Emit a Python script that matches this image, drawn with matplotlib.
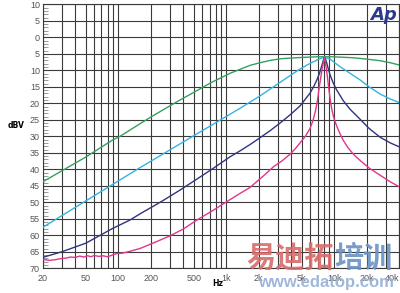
import matplotlib
matplotlib.use('Agg')
import matplotlib.pyplot as plt
from matplotlib.ticker import MultipleLocator

# values (frequency in Hz, level in dBV)
green_f = [20, 50, 89, 104, 159, 197, 300, 373, 500, 708, 1085, 1343, 1660, 2000, 2546,
           3200, 3900, 5000, 5970, 7000, 8100, 9500, 11300, 14900, 17300, 21000, 26600,
           33000, 40000]
green_db = [-43.8, -36.3, -31.1, -30.0, -26.2, -24.3, -20.8, -19.0, -16.7, -13.9, -10.9,
            -9.7, -8.5, -7.8, -7.0, -6.5, -6.3, -6.1, -6.0, -5.9, -5.9, -5.9, -6.0, -6.2,
            -6.4, -6.7, -7.1, -7.7, -8.4]

cyan_f = [20, 50, 104, 159, 373, 700, 1085, 1343, 2000, 2546, 3200, 3900, 4820, 5970,
          7000, 8100, 9150, 10000, 11300, 14000, 17300, 21000, 26600, 33000, 40000]
cyan_db = [-57.6, -49.6, -43.2, -39.5, -32.3, -27.0, -23.3, -21.5, -18.0, -15.7, -13.5,
           -11.6, -9.6, -7.9, -6.8, -6.0, -6.6, -7.6, -8.9, -10.9, -12.9, -15.0, -17.2,
           -18.7, -19.8]

navy_f = [20, 30, 50, 89, 128, 159, 250, 373, 533, 750, 1085, 1343, 1660, 2000, 2546,
          3200, 3900, 4820, 5500, 5970, 6500, 6900, 7300, 7660, 7900, 8100, 8300, 8520,
          8820, 9150, 9700, 10500, 11300, 12100, 14000, 17300, 21000, 26600, 33000, 40000]
navy_db = [-66.7, -65.0, -62.4, -57.9, -55.4, -53.5, -49.8, -46.3, -43.0, -39.8, -36.2,
           -34.4, -32.5, -30.7, -28.3, -25.8, -23.5, -20.8, -18.4, -16.9, -14.7, -12.9,
           -10.9, -8.6, -7.1, -6.1, -6.6, -7.8, -9.7, -11.4, -13.6, -15.9, -17.6, -19.2,
           -21.8, -24.8, -27.6, -30.3, -32.0, -33.2]

magenta_f = [20, 23, 26, 29, 33, 36, 40, 44, 48, 52, 56, 60, 66, 72, 80, 88, 95, 110,
             130, 159, 227, 300, 400, 533, 750, 1010, 1343, 1660, 1920, 2300, 2740, 3300,
             3900, 4400, 4820, 5400, 5970, 6350, 6700, 7000, 7300, 7550, 7800, 8000,
             8100, 8250, 8450, 8650, 8900, 9200, 9480, 9900, 10500, 11300, 12100, 13500,
             15200, 17300, 21000, 26600, 33000, 40000]
magenta_db = [-67.3, -67.6, -67.4, -67.1, -66.9, -66.6, -66.7, -66.3, -66.6, -66.2,
              -66.5, -66.1, -66.4, -66.2, -66.5, -66.0, -65.6, -65.4, -64.8, -64.0,
              -61.9, -60.2, -58.1, -55.4, -52.5, -49.8, -47.3, -45.5, -43.7, -41.5,
              -39.2, -37.4, -35.4, -33.6, -32.0, -30.0, -27.6, -25.2, -22.3, -18.9,
              -14.6, -11.5, -8.8, -6.9, -6.1, -7.2, -9.6, -12.2, -15.6, -19.2, -21.8,
              -24.4, -26.8, -29.2, -31.2, -33.6, -35.6, -37.3, -39.6, -41.8, -43.8, -45.3]

grid_f = [20, 30, 40, 50, 60, 70, 80, 90, 100, 200, 300, 400, 500, 600, 700, 800, 900,
          1000, 2000, 3000, 4000, 5000, 6000, 7000, 8000, 9000, 10000, 20000, 30000, 40000]
label_f = {20: '20', 50: '50', 100: '100', 200: '200', 500: '500', 1000: '1k',
           2000: '2k', 5000: '5k', 10000: '10k', 20000: '20k', 40000: '40k'}
y_ticks = list(range(-70, 11, 5))

fig = plt.figure(figsize=(4.0, 2.93), dpi=100)
ax = fig.add_axes([0.1068, 0.0843, 0.8915, 0.901])

ax.plot(green_f, green_db, color='#35a05e', lw=1.0, zorder=3)
ax.plot(cyan_f, cyan_db, color='#33b5db', lw=1.0, zorder=3)
ax.plot(navy_f, navy_db, color='#2f3480', lw=1.0, zorder=3)
ax.plot(magenta_f, magenta_db, color='#e2358c', lw=1.0, zorder=3)

ax.set_xscale('log')
ax.set_xlim(20, 40000)
ax.set_ylim(-70, 10)

ax.set_xticks(grid_f)
ax.set_xticklabels([label_f.get(f, '') for f in grid_f])
ax.xaxis.set_minor_locator(plt.NullLocator())
ax.set_yticks(y_ticks)
ax.set_yticklabels([str(abs(v)) for v in y_ticks])
ax.yaxis.set_minor_locator(MultipleLocator(1))

ax.tick_params(axis='x', which='major', length=0, pad=4, labelsize=6.5, labelcolor='#555555')
ax.tick_params(axis='y', which='major', length=0, pad=2, labelsize=6.5, labelcolor='#555555')
ax.tick_params(axis='y', which='minor', direction='in', length=3.5, width=0.6, color='#888888')
for lab in ax.get_xticklabels() + ax.get_yticklabels():
    lab.set_family('Liberation Sans')
ax.get_xticklabels()[-1].set_horizontalalignment('right')

ax.grid(True, which='major', color='#3a3a3a', lw=0.8)
for s in ax.spines.values():
    s.set_color('#3a3a3a')
    s.set_linewidth(0.8)

fig.text(0.04, 1 - 125 / 293, 'dBV', fontsize=5.5, fontweight='bold', ha='center', va='center')
fig.text(218 / 400, 1 - 284 / 293, 'Hz', fontsize=5.5, fontweight='bold', ha='center', va='center')
fig.text(384 / 400, 1 - 15 / 293, 'Ap', fontsize=13, fontweight='bold', style='italic',
         color='#2b3a8c', ha='center', va='center')

# watermark
fig.text(246 / 400, 1 - 258 / 293, '易迪拓', fontsize=21, fontweight='bold',
         family=['Noto Sans CJK SC', 'DejaVu Sans'], color='#d96a6a', alpha=0.9,
         ha='left', va='center', zorder=10)
fig.text(334 / 400, 1 - 258 / 293, '培训', fontsize=21, fontweight='bold',
         family=['Noto Sans CJK SC', 'DejaVu Sans'], color='#6a92c4', alpha=0.9,
         ha='left', va='center', zorder=10)
fig.text(326 / 400, 1 - 283 / 293, 'www.edatop.com', fontsize=12, fontweight='bold',
         family='Liberation Sans', color='#96b0d8', alpha=0.9,
         ha='center', va='center', zorder=10)

fig.savefig('out.png', dpi=100)
